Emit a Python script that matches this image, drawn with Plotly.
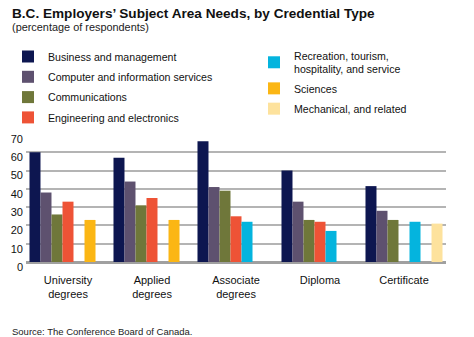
import plotly.graph_objects as go

categories = ["University<br>degrees", "Applied<br>degrees", "Associate<br>degrees", "Diploma", "Certificate"]
series_names = [
    "Business and management",
    "Computer and information services",
    "Communications",
    "Engineering and electronics",
    "Recreation, tourism,<br>hospitality, and service",
    "Sciences",
    "Mechanical, and related",
]
business = [60, 57, 66, 50, 41.5]
computer = [38, 44, 41, 33, 28]
communications = [26, 31, 39, 23, 23]
engineering = [33, 35, 25, 22, None]
recreation = [None, None, 22, 17, 22]
sciences = [23, 23, None, None, None]
mechanical = [None, None, None, None, 21]
colors = ["#0d1650", "#5e516f", "#6f773a", "#ee5336", "#04b4de", "#fbb614", "#fde29d"]
y_ticks = [0, 10, 20, 30, 40, 50, 60, 70]

series = [business, computer, communications, engineering, recreation, sciences, mechanical]
FONT = "Liberation Sans, Arial, sans-serif"

fig = go.Figure()
for i, (name, vals) in enumerate(zip(series_names, series)):
    fig.add_trace(go.Bar(
        x=categories, y=vals, name=name,
        marker=dict(color=colors[i], line=dict(width=0)),
        legend="legend" if i < 4 else "legend2",
        legendgroup=f"g{i}",
        hoverinfo="skip",
    ))

W, H = 474, 337
fig.update_layout(
    width=W, height=H,
    margin=dict(l=26, r=28, t=134, b=75, autoexpand=False),
    paper_bgcolor="white", plot_bgcolor="white",
    barmode="group", bargap=0.083, bargroupgap=0,
    font=dict(family=FONT, size=11, color="#111"),
    title=dict(text="<b>B.C. Employers’ Subject Area Needs, by Credential Type</b>",
               x=12 / W, xanchor="left", xref="container",
               y=1 - 13 / H, yanchor="middle", yref="container",
               font=dict(size=13.6, color="#111", family=FONT)),
    legend=dict(xref="container", yref="container", x=8 / W, y=1 - 42 / H,
                xanchor="left", yanchor="top", font=dict(size=10.6),
                bgcolor="rgba(0,0,0,0)", itemwidth=30, tracegroupgap=1.3),
    legend2=dict(xref="container", yref="container", x=254 / W, y=1 - 42 / H,
                 xanchor="left", yanchor="top", font=dict(size=10.6),
                 bgcolor="rgba(0,0,0,0)", itemwidth=30, tracegroupgap=1.3),
    xaxis=dict(showgrid=False, showline=False, ticks="", tickfont=dict(size=11, color="#111"),
               ticklabelstandoff=10),
    yaxis=dict(range=[0, 70], tickvals=y_ticks, showgrid=True, gridcolor="#b4b4b4", gridwidth=2,
               zeroline=True, zerolinecolor="#a0a0a0", zerolinewidth=3,
               ticks="", tickfont=dict(size=11, color="#111"), ticklabelstandoff=2,
               ticklabelshift=5),
    annotations=[
        dict(text="(percentage of respondents)", xref="paper", yref="paper",
             x=(10 - 26) / 420, y=(262 - 27) / 128, xanchor="left", yanchor="middle",
             showarrow=False, font=dict(size=10.9, color="#222")),
        dict(text="Source: The Conference Board of Canada.", xref="paper", yref="paper",
             x=(10 - 26) / 420, y=(262 - 331) / 128, xanchor="left", yanchor="middle",
             showarrow=False, font=dict(size=9.5, color="#222")),
    ],
)

fig.write_html("out.html")
